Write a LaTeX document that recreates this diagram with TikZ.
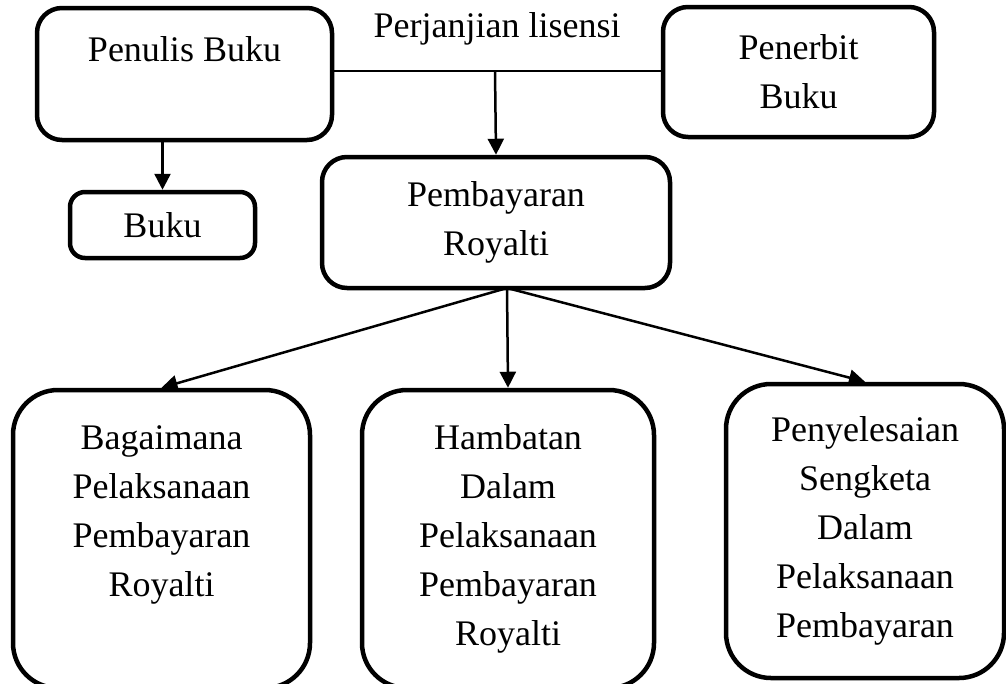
\documentclass[tikz,border=0pt]{standalone}
\usepackage{fontspec}
\setmainfont{Liberation Serif}
\usetikzlibrary{arrows.meta}
\begin{document}
\begin{tikzpicture}[x=1pt,y=-1pt,
    kotak/.style={draw, line width=4.5pt, rounded corners=25pt, align=center, inner sep=0pt,
        font=\fontsize{36}{49}\selectfont},
    besar/.style={kotak, rounded corners=45pt},
    panah/.style={-{Triangle[length=16pt,width=16pt]}, line width=2.5pt}]
    \useasboundingbox (0,0) rectangle (1006,683);
    % Define the top boxes
    \node[kotak, minimum width=295, minimum height=132] (penulis) at (184.5,74) {Penulis Buku\\\phantom{Buku}};
    \node[kotak, minimum width=271, minimum height=130] (penerbit) at (798.5,72) {Penerbit\\Buku};
    \node[kotak, minimum width=348, minimum height=131] (bayar) at (496,222.5) {Pembayaran\\Royalti};
    \node[kotak, rounded corners=15pt, minimum width=185, minimum height=66] (buku) at (162.5,225) {Buku};
    \node[anchor=base, font=\fontsize{36}{49}\selectfont] (lisensi) at (497,37) {Perjanjian lisensi};
    % Define the bottom boxes
    \node[besar, minimum width=297, minimum height=298] (bagaimana) at (161.5,539)
        {Bagaimana\\Pelaksanaan\\Pembayaran\\Royalti\\\phantom{Royalti}};
    \node[besar, minimum width=292, minimum height=298] (hambatan) at (508,539)
        {Hambatan\\Dalam\\Pelaksanaan\\Pembayaran\\Royalti};
    \node[besar, minimum width=278, minimum height=294] (sengketa) at (865,531)
        {Penyelesaian\\Sengketa\\Dalam\\Pelaksanaan\\Pembayaran};
    % Add connectors
    \coordinate (tengah) at (495,71);
    \coordinate (pangkal) at (507,288);
    \draw[line width=2pt] (penulis.east |- tengah) -- (penerbit.west |- tengah);
    \draw[panah] (tengah) -- (bayar.north);
    \draw[panah] (buku.north |- penulis.south) -- (buku.north);
    \foreach \tujuan in {bagaimana,hambatan,sengketa} {
        \draw[panah] (pangkal) -- (\tujuan.north);
    }
\end{tikzpicture}
\end{document}
